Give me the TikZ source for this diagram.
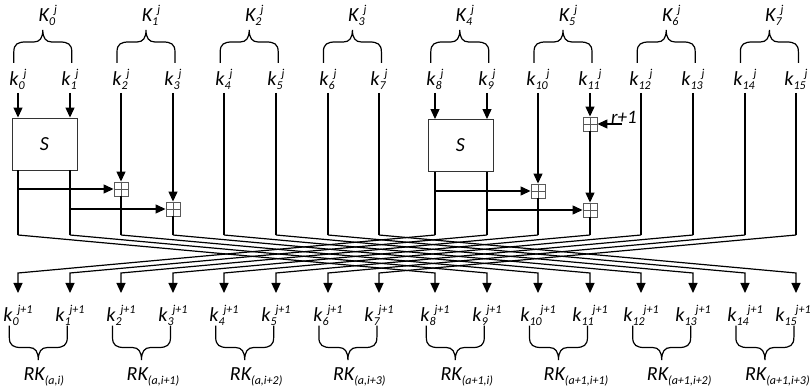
\documentclass[tikz,border=0pt]{standalone}
\usepackage{fontspec}
\setmainfont{Carlito}
\usetikzlibrary{arrows.meta}
\newcommand\mysub[1]{\raisebox{-3.5pt}{\fontsize{12}{12}\selectfont #1}}
\newcommand\mysup[1]{\raisebox{8.4pt}{\fontsize{12}{12}\selectfont #1}}
\begin{document}
\begin{tikzpicture}[x=1pt,y=-1pt,
  wire/.style={line width=1.2pt},
  arr/.style={wire,-{Triangle[length=10pt,width=9pt]}},
  lab/.style={font=\fontsize{20}{22}\selectfont\itshape, inner sep=0pt},
  plusbox/.style={draw=black!65, line width=0.9pt, minimum size=14pt, inner sep=0pt,
    path picture={\draw[black!65,line width=0.9pt]
      (path picture bounding box.north) -- (path picture bounding box.south)
      (path picture bounding box.west) -- (path picture bounding box.east);}},
  sbox/.style={draw=black!80, line width=0.9pt, minimum width=65pt, minimum height=52pt,
    inner sep=0pt, font=\fontsize{20}{22}\selectfont\itshape},
  tbrace/.pic={\draw[wire] (-29,33) -- (-29,22) .. controls (-29,14) and (-25,12) .. (-17,12)
     -- (-9,12) .. controls (-3,12) and (0,8) .. (0,0)
     .. controls (0,8) and (3,12) .. (9,12) -- (17,12)
     .. controls (25,12) and (29,14) .. (29,22) -- (29,33);}
]
\useasboundingbox (0,0) rectangle (812,390);

% column coordinates
\foreach \i in {0,...,15}{
  \pgfmathsetmacro\xx{round(\i<8 ? 18+\i*51.6 : 435+(\i-8)*51.6)}
  \pgfmathsetmacro\lx{\i==15 ? \xx-3 : \xx}
  \coordinate (t\i) at (\xx,93);
  \coordinate (c\i) at (\xx,235);
  \coordinate (d\i) at (\xx,273);
  \coordinate (e\i) at (\xx,293);
  \node[lab,anchor=base] (kt\i) at (\xx,86) {k\mysub{\i}\hspace{-1pt}\mysup{j}};
  \node[lab,anchor=base] (kb\i) at (\lx,322) {k\mysub{\i}\hspace{-1pt}\mysup{j+1}};
}

% top braces and K labels
\foreach \p in {0,...,7}{
  \pgfmathtruncatemacro\a{2*\p}
  \pgfmathtruncatemacro\b{2*\p+1}
  \pgfmathsetmacro\xa{\a<8 ? 18+\a*51.6 : 435+(\a-8)*51.6}
  \pgfmathsetmacro\xb{\b<8 ? 18+\b*51.6 : 435+(\b-8)*51.6}
  \pgfmathsetmacro\tx{(\xa+\xb)/2-1}
  \pgfmathsetmacro\bx{(\xa+\xb)/2-5.5}
  \pic at (\tx,30) {tbrace};
  \node[lab,anchor=base] (K\p) at (\tx+5,22) {K\mysub{\p}\hspace{-1pt}\mysup{j}};
  \pic[yscale=-1.04] at (\bx,360) {tbrace};
  \coordinate (rk\p) at (\bx-15,381);
}
\node[lab,anchor=base west] (RK0) at (rk0) {RK\mysub{(a,i)}};
\node[lab,anchor=base west] (RK1) at (rk1) {RK\mysub{(a,i+1)}};
\node[lab,anchor=base west] (RK2) at (rk2) {RK\mysub{(a,i+2)}};
\node[lab,anchor=base west] (RK3) at (rk3) {RK\mysub{(a,i+3)}};
\node[lab,anchor=base west] (RK4) at (rk4) {RK\mysub{(a+1,i)}};
\node[lab,anchor=base west] (RK5) at (rk5) {RK\mysub{(a+1,i+1)}};
\node[lab,anchor=base west] (RK6) at (rk6) {RK\mysub{(a+1,i+2)}};
\node[lab,anchor=base west] (RK7) at ([xshift=-5pt]rk7) {RK\mysub{(a+1,i+3)}};

% S boxes and adders
\node[sbox] (S1) at (44.5,144) {S};
\node[sbox] (S2) at (460.5,145.5) {S};
\node[plusbox] (p1) at (t2 |- 0,189) {};
\node[plusbox] (p2) at (t3 |- 0,209) {};
\node[plusbox] (p3) at (t10 |- 0,191) {};
\node[plusbox] (p4) at (t11 |- 0,124) {};
\node[plusbox] (p5) at (t11 |- 0,210) {};
\coordinate (rr) at (622,124);
\node[lab,anchor=base west,font=\fontsize{19}{22}\selectfont\itshape] (rlab) at (611,124) {r+1};

% left block
\draw[arr] (t0) -- (S1.north -| t0);
\draw[arr] (t1) -- (S1.north -| t1);
\draw[wire] (S1.south -| c0) -- (c0);
\draw[wire] (S1.south -| c1) -- (c1);
\draw[arr] (t2) -- (p1.north);
\draw[wire] (p1.south) -- (c2);
\draw[arr] (t3) -- (p2.north);
\draw[wire] (p2.south) -- (c3);
\draw[arr] (p1.west -| c0) -- (p1.west);
\draw[arr] (p2.west -| c1) -- (p2.west);
\foreach \i in {4,...,7}{ \draw[wire] (t\i) -- (c\i); }

% right block
\draw[arr] (t8) -- (S2.north -| t8);
\draw[arr] (t9) -- (S2.north -| t9);
\draw[wire] (S2.south -| c8) -- (c8);
\draw[wire] (S2.south -| c9) -- (c9);
\draw[arr] (t10) -- (p3.north);
\draw[wire] (p3.south) -- (c10);
\draw[arr] (t11) -- (p4.north);
\draw[arr] (p4.south) -- (p5.north);
\draw[wire] (p5.south) -- (c11);
\draw[arr] (rr) -- (p4.east);
\draw[arr] (p3.west -| c8) -- (p3.west);
\draw[arr] (p5.west -| c9) -- (p5.west);
\foreach \i in {12,...,15}{ \draw[wire] (t\i) -- (c\i); }

% permutation (rotation by 8)
\foreach \i in {0,...,15}{
  \pgfmathtruncatemacro\j{mod(\i+8,16)}
  \draw[arr] (c\i) -- (d\j) -- (e\j);
}
\end{tikzpicture}
\end{document}
